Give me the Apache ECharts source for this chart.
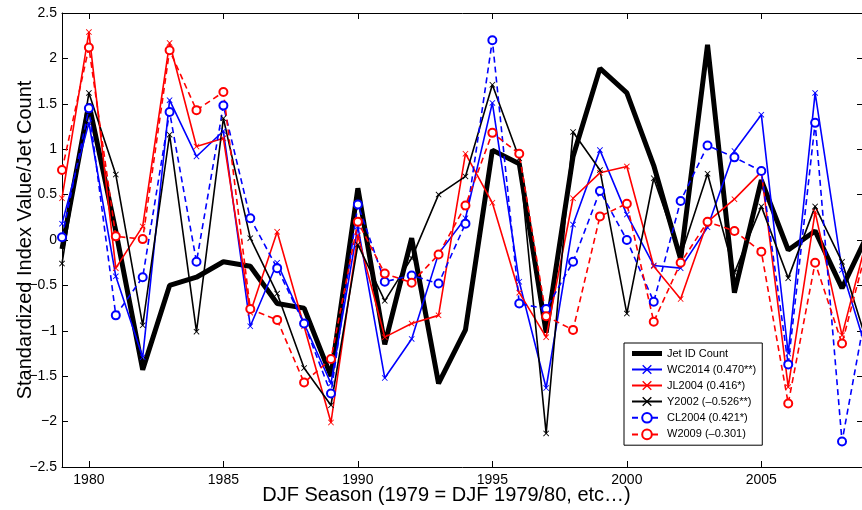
<!DOCTYPE html>
<html>
<head>
    <meta charset="utf-8">
    <title>index</title>
    <style>
        html, body { margin: 0; padding: 0; background: #fff; }
        #container { width: 862px; height: 510px; }
    </style>
</head>
<body>
    <div id="container"></div>
</body>
<script src="https://cdn.jsdelivr.net/npm/echarts@6/dist/echarts.min.js"></script>
<script type="text/javascript">
    // DJF seasons
    var years = [1979, 1980, 1981, 1982, 1983, 1984, 1985, 1986, 1987, 1988, 1989, 1990, 1991, 1992, 1993,
        1994, 1995, 1996, 1997, 1998, 1999, 2000, 2001, 2002, 2003, 2004, 2005, 2006, 2007, 2008, 2009];
    var xTicks = [1980, 1985, 1990, 1995, 2000, 2005];

    var jetCount = [-0.1, 1.5, 0.1, -1.43, -0.5, -0.41, -0.24, -0.29, -0.70, -0.75, -1.5, 0.57, -1.15, 0.02, -1.58,
        -0.99, 0.99, 0.84, -1.02, 0.92, 1.89, 1.62, 0.82, -0.21, 2.15, -0.58, 0.66, -0.11, 0.10, -0.53, 0.09];
    var wc2014 = [0.18, 1.29, -0.40, -1.29, 1.54, 0.92, 1.2, -0.95, -0.25, -0.92, -1.58, 0.15, -1.52, -1.09, -0.15,
        0.24, 1.51, -0.46, -1.63, 0.17, 0.99, 0.28, -0.28, -0.31, 0.14, 0.98, 1.38, -1.25, 1.62, -0.33, -1.3];
    var jl2004 = [0.46, 2.29, -0.31, 0.15, 2.17, 1.03, 1.12, -0.80, 0.09, -0.95, -2.01, 0.05, -1.07, -0.92, -0.83,
        0.95, 0.41, -0.58, -1.07, 0.46, 0.74, 0.81, -0.29, -0.65, 0.20, 0.45, 0.75, -1.62, 0.31, -1.05, 0.1];
    var y2002 = [-0.26, 1.62, 0.72, -0.94, 1.16, -1.01, 1.34, 0.02, -0.59, -1.41, -1.82, -0.05, -0.67, -0.20, 0.50,
        0.70, 1.71, 0.90, -2.13, 1.19, 0.77, -0.81, 0.68, -0.18, 0.73, -0.36, 0.37, -0.42, 0.37, -0.24, -1.2];
    var cl2004 = [0.03, 1.45, -0.83, -0.41, 1.41, -0.24, 1.48, 0.24, -0.31, -0.92, -1.69, 0.39, -0.46, -0.39, -0.48,
        0.18, 2.20, -0.70, -0.76, -0.24, 0.54, 0.0, -0.68, 0.43, 1.04, 0.91, 0.76, -1.37, 1.29, -2.22, -0.6];
    var w2009 = [0.77, 2.12, 0.04, 0.01, 2.09, 1.43, 1.63, -0.76, -0.88, -1.57, -1.31, 0.20, -0.37, -0.47, -0.16,
        0.38, 1.18, 0.95, -0.84, -0.99, 0.26, 0.40, -0.90, -0.25, 0.20, 0.10, -0.13, -1.80, -0.25, -1.14, 0.0];

    var names = ['Jet ID Count', 'WC2014 (0.470**)', 'JL2004 (0.416*)', 'Y2002 (–0.526**)',
        'CL2004 (0.421*)', 'W2009 (–0.301)'];

    var cross = 'path://M0,1L1,0L5,4L9,0L10,1L6,5L10,9L9,10L5,6L1,10L0,9L4,5Z';
    var font = 'Liberation Sans, Arial, Helvetica, sans-serif';

    var pairs = function (vals) {
        var out = [];
        for (var i = 0; i < years.length; i++) {
            out.push([years[i], vals[i]]);
        }
        return out;
    };

    var lineSeries = function (name, vals, color, dashed) {
        return {
            name: name,
            type: 'line',
            data: pairs(vals),
            symbol: dashed ? 'emptyCircle' : cross,
            symbolSize: dashed ? 8 : 6,
            showAllSymbol: true,
            animation: false,
            lineStyle: { color: color, width: 1.6, type: dashed ? [6, 4] : 'solid' },
            itemStyle: { color: color, borderColor: color, borderWidth: dashed ? 1.6 : 0 }
        };
    };

    var xMin = 1979, xMax = 2008.78;

    var xAxisBase = function (pos) {
        return {
            type: 'value',
            min: xMin,
            max: xMax,
            position: pos,
            axisLine: { show: true, onZero: false, lineStyle: { color: '#000', width: 1 } },
            axisTick: { show: true, inside: true, length: 6, customValues: xTicks, lineStyle: { color: '#000' } },
            axisLabel: {
                show: pos === 'bottom', customValues: xTicks, fontSize: 14, color: '#000', fontFamily: font, margin: 6,
                formatter: function (v) { return String(v); }
            },
            splitLine: { show: false }
        };
    };

    var yAxisBase = function (pos) {
        return {
            type: 'value',
            min: -2.5,
            max: 2.5,
            interval: 0.5,
            position: pos,
            axisLine: { show: true, onZero: false, lineStyle: { color: '#000', width: 1 } },
            axisTick: { show: true, inside: true, length: 6, lineStyle: { color: '#000' } },
            axisLabel: {
                show: pos === 'left', fontSize: 14, color: '#000', fontFamily: font, margin: 5,
                formatter: function (v) { return String(v).replace('-', '\u2212'); }
            },
            splitLine: { show: false }
        };
    };

    var xBottom = xAxisBase('bottom');
    xBottom.name = 'DJF Season (1979 = DJF 1979/80, etc…)';
    xBottom.nameLocation = 'middle';
    xBottom.nameGap = 18;
    xBottom.nameMoveOverlap = false;
    xBottom.nameTextStyle = { fontSize: 20, color: '#000', fontFamily: font, padding: [0, 32, 0, 0] };

    var yLeft = yAxisBase('left');
    yLeft.name = 'Standardized Index Value/Jet Count';
    yLeft.nameLocation = 'middle';
    yLeft.nameGap = 27;
    yLeft.nameMoveOverlap = false;
    yLeft.nameTextStyle = { fontSize: 20, color: '#000', fontFamily: font };

    var legendData = names.map(function (n, i) {
        if (i === 0) {
            return { name: n, icon: 'path://M0,0L30,0L30,5L0,5Z' };
        }
        return { name: n };
    });

    var dom = document.getElementById('container'),
        myChart = echarts.init(dom),
        option = {
            backgroundColor: '#fff',
            animation: false,
            grid: { left: 62, top: 13, width: 801, bottom: 43, containLabel: false, outerBoundsMode: 'none' },
            legend: {
                orient: 'vertical',
                left: 624,
                top: 343,
                padding: [5, 6, 5, 7],
                itemWidth: 30,
                itemHeight: 12,
                itemGap: 5,
                backgroundColor: '#fff',
                borderColor: '#000',
                borderWidth: 1,
                borderRadius: 0,
                textStyle: { fontSize: 11, color: '#000', fontFamily: font },
                data: legendData
            },
            xAxis: [xBottom, xAxisBase('top')],
            yAxis: [yLeft, yAxisBase('right')],
            series: [{
                name: names[0],
                type: 'line',
                data: pairs(jetCount),
                symbol: 'none',
                animation: false,
                lineStyle: { color: '#000', width: 5 },
                itemStyle: { color: '#000' }
            },
                lineSeries(names[1], wc2014, '#0000ff', false),
                lineSeries(names[2], jl2004, '#ff0000', false),
                lineSeries(names[3], y2002, '#000000', false),
                lineSeries(names[4], cl2004, '#0000ff', true),
                lineSeries(names[5], w2009, '#ff0000', true)
            ]
        };
    myChart.setOption(option, true);
</script>
</html>
